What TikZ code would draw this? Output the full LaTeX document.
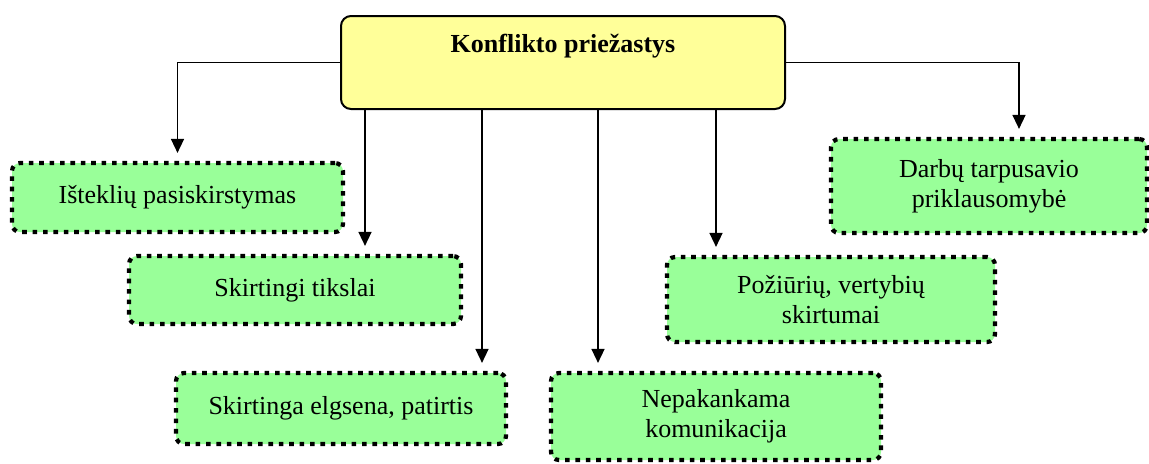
\documentclass[tikz,border=0pt]{standalone}
\usepackage{fontspec}
\setmainfont{Liberation Serif}
\usetikzlibrary{arrows.meta}
\definecolor{headfill}{HTML}{FFFF99}
\definecolor{causefill}{HTML}{99FF99}
\tikzset{
  headbox/.style={draw=black, line width=1pt, fill=headfill, rounded corners=5pt,
    minimum width=222pt, minimum height=46.5pt, inner sep=0pt},
  causebox/.style={draw=black, line width=2.1pt, dash pattern=on 2.3pt off 2.9pt,
    fill=causefill, rounded corners=4pt, inner sep=0pt, align=center,
    font=\fontsize{13}{15}\selectfont},
  arr/.style={line width=0.75pt, -{Triangle[length=7pt,width=6.5pt]}, shorten >=4pt}
}
\begin{document}
\begin{tikzpicture}[x=0.5pt,y=-0.5pt]
\useasboundingbox (0,0) rectangle (1149,463);

% central box
\node[headbox] (top) at (563,62.5) {};
\node[font=\fontsize{13}{16}\bfseries, anchor=center] (title) at (563,46) {Konflikto priežastys};

% causes
\node[causebox, minimum width=165.5pt, minimum height=34.5pt] (b1) at (177.5,197.5) {Išteklių pasiskirstymas};
\node[causebox, minimum width=166pt, minimum height=34pt] (b2) at (295,290) {Skirtingi tikslai};
\node[causebox, minimum width=165pt, minimum height=35.5pt] (b3) at (341,408.5) {Skirtinga elgsena, patirtis};
\node[causebox, minimum width=165pt, minimum height=43.5pt] (b4) at (716,416.5) {Nepakankama\\komunikacija};
\node[causebox, minimum width=164pt, minimum height=42.5pt] (b5) at (831,299.5) {Požiūrių, vertybių\\skirtumai};
\node[causebox, minimum width=158pt, minimum height=47pt] (b6) at (989,186) {Darbų tarpusavio\\priklausomybė};

% connectors
\draw[arr] (top.west) -| (b1.north);
\draw[arr] ([xshift=-99pt]top.south) -- ([xshift=-99pt]top.south |- b2.north);
\draw[arr] ([xshift=-40.5pt]top.south) -- ([xshift=-40.5pt]top.south |- b3.north);
\draw[arr] ([xshift=17.5pt]top.south) -- ([xshift=17.5pt]top.south |- b4.north);
\draw[arr] ([xshift=76.5pt]top.south) -- ([xshift=76.5pt]top.south |- b5.north);
\draw[arr] (top.east) -| ([xshift=15pt]b6.north);
\end{tikzpicture}
\end{document}
